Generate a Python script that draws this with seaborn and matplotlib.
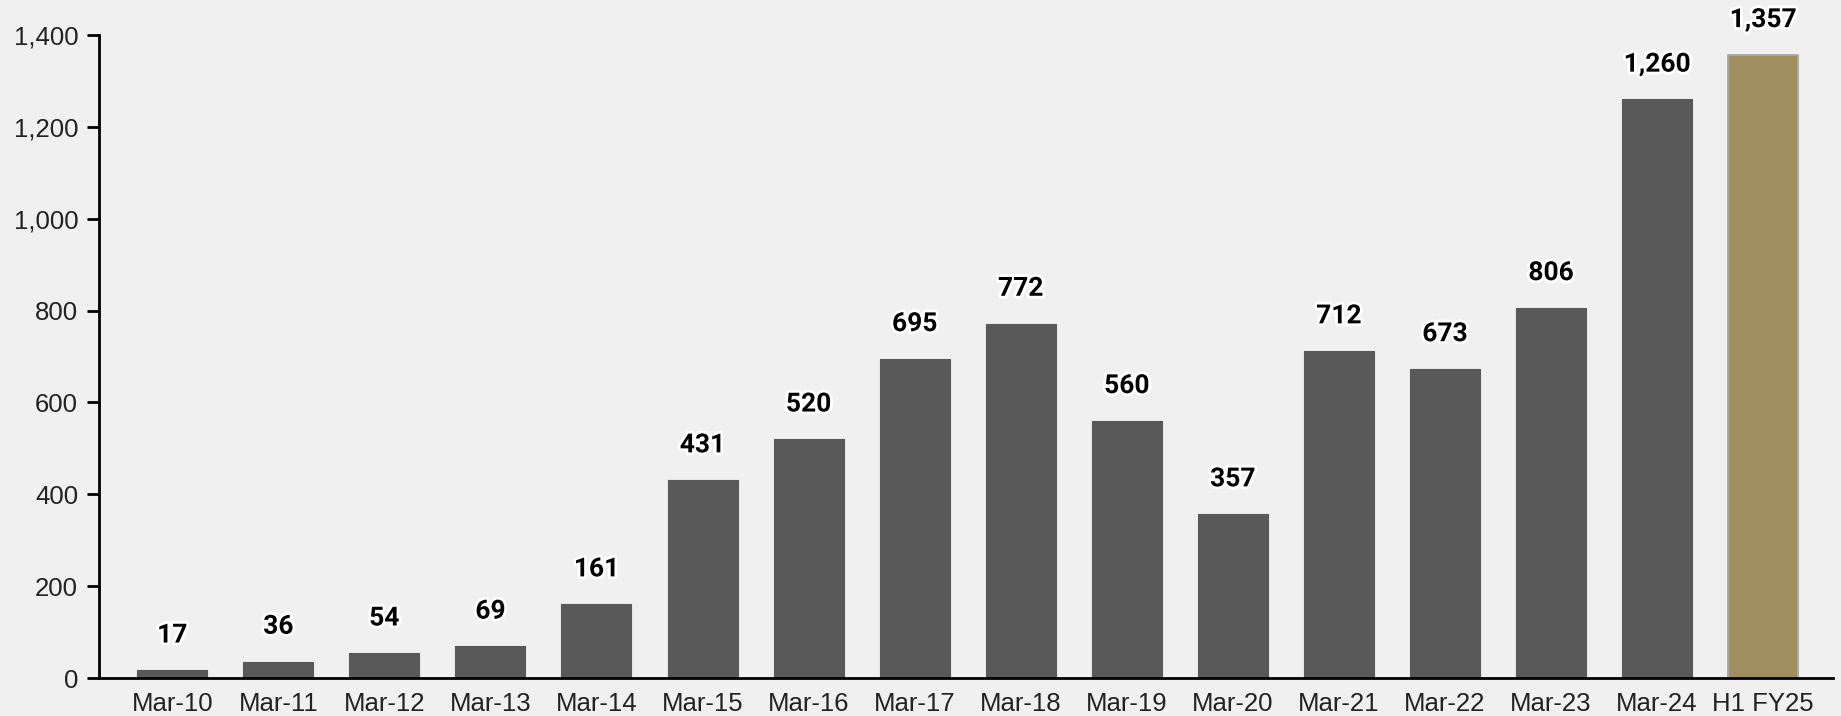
import matplotlib
matplotlib.use("Agg")
import matplotlib.pyplot as plt
import matplotlib.patheffects as pe
from matplotlib.ticker import FuncFormatter
import seaborn as sns
import pandas as pd

periods = ["Mar-10", "Mar-11", "Mar-12", "Mar-13", "Mar-14", "Mar-15", "Mar-16", "Mar-17",
           "Mar-18", "Mar-19", "Mar-20", "Mar-21", "Mar-22", "Mar-23", "Mar-24", "H1 FY25"]
values = [17, 36, 54, 69, 161, 431, 520, 695, 772, 560, 357, 712, 673, 806, 1260, 1357]
y_ticks = [0, 200, 400, 600, 800, 1000, 1200, 1400]

dark = "#595959"
gold = "#A08F5E"
bg = "#F0F0F0"
colors = [dark] * (len(periods) - 1) + [gold]

sns.set_theme(style="white")
plt.rcParams["font.family"] = ["Liberation Sans", "DejaVu Sans"]

df = pd.DataFrame({"period": periods, "value": values})

fig = plt.figure(figsize=(18.41, 7.16), dpi=100, facecolor=bg)
ax = fig.add_axes([0.0538, 0.053, 0.9419, 0.898])
ax.set_facecolor(bg)

sns.barplot(data=df, x="period", y="value", hue="period", palette=colors,
            legend=False, width=0.66, ax=ax, saturation=1)

for i, bar in enumerate(ax.patches):
    if i == len(periods) - 1:
        bar.set_edgecolor("#A9A9A9")
        bar.set_linewidth(1.4)
    else:
        bar.set_edgecolor(dark)
        bar.set_linewidth(0.8)
    bar.set_joinstyle("round")

for i, v in enumerate(values):
    ax.annotate(f"{v:,}", xy=(i, v), xytext=(0, 25), textcoords="offset points",
                ha="center", va="center", fontsize=19, fontweight="bold",
                family="Roboto", color="black", annotation_clip=False,
                path_effects=[pe.withStroke(linewidth=4, foreground="white")])

ax.set_ylim(0, 1400)
ax.set_xlim(-0.69, 15.66)
ax.set_yticks(y_ticks)
ax.yaxis.set_major_formatter(FuncFormatter(lambda v, _: f"{int(v):,}"))
ax.set_xlabel("")
ax.set_ylabel("")

for side in ("top", "right"):
    ax.spines[side].set_visible(False)
for side in ("left", "bottom"):
    ax.spines[side].set_color("black")
    ax.spines[side].set_linewidth(2)

ax.tick_params(axis="y", which="major", length=9, width=2, color="black",
               labelsize=18.5, labelcolor="#222222", pad=6, left=True)
ax.tick_params(axis="x", length=0, labelsize=18.5, labelcolor="#222222", pad=10)

fig.savefig("out.png", dpi=100, facecolor=bg)
